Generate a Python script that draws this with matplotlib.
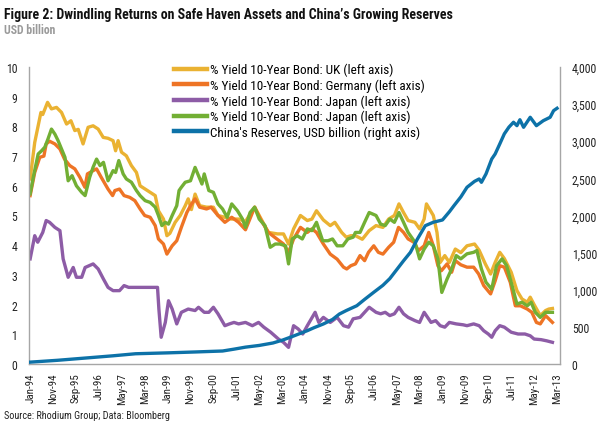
import matplotlib
matplotlib.use("Agg")
import matplotlib.pyplot as plt
from matplotlib import font_manager
from matplotlib.ticker import FuncFormatter

# prefer a condensed face if one is installed, else shrink regular Liberation Sans
installed = {f.name for f in font_manager.fontManager.ttflist}
narrow = None
for name in ['Liberation Sans Narrow', 'Roboto Condensed', 'Open Sans Condensed']:
    if name in installed:
        narrow = name
        break
if narrow:
    plt.rcParams['font.family'] = [narrow, 'Liberation Sans', 'DejaVu Sans']
    shrink = 1.0
else:
    plt.rcParams['font.family'] = ['Liberation Sans', 'DejaVu Sans']
    shrink = 0.82

# month index counted from Jan-94 (0)
uk_months = [0, 2, 4.7, 5.5, 7.6, 9.3, 11.5, 13.7, 15.9, 17.8, 19.5, 21, 23.1, 25.3, 27.5, 29.7,
             31.9, 34, 36.2, 37.3, 38.4, 39.9, 42, 44.2, 46.4, 48, 50.2, 52.4, 54.6, 56, 58.2,
             59.7, 61, 63.3, 65.5, 67.7, 69, 70.4, 72, 74, 77, 80, 82, 85, 88, 91, 94, 98, 100,
             104, 108, 110.6, 112.8, 115, 118, 121, 123, 125, 128, 131, 133, 136, 138, 140, 142,
             145, 148, 151, 154, 156.5, 159, 161, 163, 165, 168, 170, 172, 173, 176, 177.6, 179,
             181, 183, 185.6, 188, 190.7, 194, 196, 198.7, 201, 203, 205, 207, 210, 212.5, 214.7,
             217, 218.3, 220, 222.7, 225, 226.4, 228]
uk_yield = [6.23, 7.46, 8.47, 8.40, 8.81, 8.59, 8.64, 8.47, 8.08, 8.19, 7.86, 7.90, 7.41, 7.97, 8.02,
            7.91, 7.63, 7.60, 7.52, 7.18, 7.52, 7.13, 7.01, 6.68, 6.45, 6.00, 5.89, 5.78, 5.67, 5.16,
            4.88, 4.32, 4.40, 4.77, 5.00, 5.33, 5.56, 5.20, 5.72, 5.33, 5.28, 5.28, 5.00, 4.94, 4.88,
            4.88, 4.80, 5.28, 5.00, 4.43, 4.38, 4.38, 4.04, 4.55, 5.00, 4.83, 4.88, 5.16, 4.85, 4.66,
            4.77, 4.43, 4.27, 4.32, 4.32, 4.20, 4.49, 4.66, 4.60, 4.88, 5.00, 5.39, 5.10, 4.83, 4.77,
            4.55, 4.88, 5.39, 5.00, 4.43, 3.42, 3.65, 3.42, 3.87, 3.75, 3.98, 4.04, 3.83, 3.37, 3.03,
            3.42, 3.76, 3.55, 3.09, 2.47, 2.19, 2.08, 2.25, 2.00, 1.63, 1.80, 1.85, 1.87]

de_months = [0, 2, 4.2, 6, 7, 8.5, 10.8, 13, 15, 17.3, 19.5, 21.7, 23.9, 25, 27.5, 29, 31, 34, 36, 37,
             39, 41, 43.5, 45.7, 48, 50, 52.4, 54.6, 56, 58.2, 59.7, 62, 64, 66, 68.4, 70, 72, 74, 77,
             79, 82, 85, 88, 91, 94, 98, 100.5, 104, 107.7, 110.6, 112.8, 115, 118, 121, 123, 125,
             128, 131, 134, 136.8, 138.2, 140, 142, 144, 146, 147.7, 150, 152, 154, 156.5, 158.7,
             160.8, 163, 165, 167.5, 169.5, 172, 174, 176, 178, 179.5, 182, 184, 185.6, 188, 190.7,
             193.6, 195.8, 198, 201, 203, 205, 207, 209.6, 211.8, 214, 217, 219, 221, 222.7, 225, 228]
de_yield = [5.67, 6.45, 6.96, 7.00, 7.41, 7.50, 7.41, 7.24, 6.90, 6.68, 6.57, 6.29, 5.95, 6.40, 6.51,
            6.57, 6.29, 5.89, 5.67, 5.84, 5.89, 5.67, 5.61, 5.50, 5.22, 5.00, 4.94, 4.66, 4.21, 4.04,
            3.70, 3.98, 4.15, 4.60, 5.10, 5.33, 5.56, 5.28, 5.22, 5.28, 5.00, 4.77, 4.94, 4.77, 4.52,
            5.28, 4.88, 4.43, 4.21, 4.04, 3.76, 4.21, 4.60, 4.43, 4.55, 4.43, 4.04, 3.70, 3.53, 3.26,
            3.20, 3.31, 3.37, 3.65, 3.48, 3.76, 3.98, 3.76, 3.70, 3.93, 4.10, 4.60, 4.43, 4.21, 4.10,
            3.82, 3.98, 4.43, 3.98, 3.31, 3.14, 3.37, 3.09, 3.48, 3.34, 3.26, 3.26, 3.03, 2.64, 2.36,
            2.80, 3.31, 3.26, 2.75, 1.96, 1.96, 1.85, 1.74, 1.40, 1.35, 1.63, 1.40]

jp_months = [0, 2, 3.3, 5.5, 7, 8.5, 10.8, 13, 14.4, 16.6, 18.8, 20.2, 22.5, 24, 27.5, 29.7, 32, 34,
             36.2, 39, 41, 43, 47, 55.6, 56.2, 57.2, 59, 60.4, 62, 64, 66, 69, 72, 73.5, 76, 78, 80,
             82, 85, 87, 89, 91, 94, 97, 99.7, 102, 105, 108.4, 110.6, 112.8, 115, 117, 119, 121,
             124.4, 126, 128, 131, 134, 136.8, 139, 141, 144, 146, 148, 151, 153, 155, 157, 159, 161,
             163, 165, 168, 170, 172, 175, 177, 179, 181, 183, 186, 189, 190.7, 193.6, 196, 198, 200,
             201.5, 203, 205, 207, 210, 213, 216, 218.3, 220, 223, 225.5, 228]
jp_yield = [3.54, 4.32, 4.10, 4.43, 4.83, 4.77, 4.60, 4.49, 3.54, 2.92, 3.25, 2.92, 2.92, 3.25, 3.37,
            3.20, 2.86, 2.58, 2.47, 2.47, 2.64, 2.58, 2.58, 2.58, 1.85, 0.90, 1.40, 2.13, 1.85, 1.35,
            1.74, 1.85, 1.80, 1.91, 1.74, 1.74, 1.91, 1.69, 1.29, 1.35, 1.40, 1.35, 1.40, 1.29, 1.40,
            1.24, 1.07, 0.84, 0.73, 0.56, 1.29, 1.18, 1.01, 1.29, 1.74, 1.40, 1.57, 1.40, 1.57, 1.29,
            1.24, 1.52, 1.57, 1.74, 1.91, 1.74, 1.69, 1.74, 1.63, 1.69, 1.91, 1.69, 1.57, 1.46, 1.40,
            1.74, 1.40, 1.46, 1.29, 1.24, 1.40, 1.35, 1.32, 1.29, 1.35, 1.29, 1.12, 1.01, 0.90, 1.12,
            1.29, 1.24, 1.07, 1.01, 1.01, 0.95, 0.84, 0.82, 0.78, 0.73]

gr_months = [0, 1.5, 3.5, 5, 6.4, 7.8, 9.3, 10.8, 12.2, 13.7, 15.2, 16.6, 18.3, 20.2, 22.5, 24, 26,
             27.5, 29, 30.5, 32, 34, 36.2, 37.3, 38.7, 40.6, 42, 44.2, 46.4, 48, 50.2, 52.4, 54.6, 56,
             57.5, 59, 60.4, 62, 64, 65, 66, 67.7, 70, 72, 73.5, 75, 76, 78, 80, 82, 84, 86, 88, 90.5,
             92.7, 94, 96, 98, 100, 102.5, 104.8, 107, 109, 111.5, 112.8, 114.4, 116.6, 118.8, 121,
             123, 125, 127.7, 130, 132, 134, 136.5, 138.7, 141, 142, 144, 146, 148, 151, 153, 155,
             157, 159, 161, 163, 165, 168, 170, 172, 174, 176, 178, 179.7, 182, 184, 186, 188, 190.7,
             193.6, 195, 197, 199, 201.5, 203.6, 206, 208, 210, 212.5, 214.7, 217, 218.7, 220.5,
             222.7, 225, 228]
gr_yield = [5.73, 6.34, 7.07, 7.18, 7.30, 7.58, 7.91, 7.74, 7.52, 7.24, 6.96, 6.17, 6.34, 6.00, 5.78,
            5.67, 6.29, 6.63, 6.90, 6.68, 6.79, 6.17, 6.51, 6.45, 6.85, 6.40, 6.23, 6.12, 5.84, 5.67,
            5.50, 5.44, 5.28, 5.00, 4.66, 4.77, 4.71, 5.00, 5.33, 5.84, 5.95, 6.12, 6.17, 6.62, 6.34,
            6.06, 6.40, 5.84, 5.78, 5.39, 5.22, 4.94, 5.39, 5.16, 4.88, 4.60, 5.10, 5.28, 4.88, 4.66,
            3.93, 4.04, 4.04, 3.98, 3.37, 4.21, 4.32, 4.21, 4.55, 4.49, 4.77, 4.15, 4.15, 4.21, 3.98,
            3.98, 4.21, 4.27, 4.43, 4.43, 4.77, 5.10, 5.00, 4.71, 4.66, 4.88, 4.77, 5.10, 4.77, 4.43,
            4.10, 3.54, 3.87, 4.10, 3.98, 3.54, 2.41, 2.86, 3.20, 3.65, 3.54, 3.71, 3.76, 3.82, 3.20,
            2.75, 2.52, 3.31, 3.54, 3.31, 2.75, 2.02, 2.08, 1.96, 2.08, 1.74, 1.57, 1.74, 1.74]

cn_months = [0, 12, 24, 36, 46, 60, 72, 84, 89, 94, 100, 106, 110, 114, 121, 124, 128, 132, 135, 138,
             142.6, 146, 150, 154, 157, 160, 163, 166, 169, 172.5, 176, 180, 183, 185, 188, 190.7,
             194, 196, 197, 199, 201.5, 203, 205, 207, 209, 211, 212.5, 213.8, 215.4, 218.3, 221,
             224, 227, 228.5, 230]
cn_reserves = [25, 50, 80, 110, 138, 150, 162, 175, 200, 227, 250, 283, 320, 365, 449, 490, 539, 600,
               673, 720, 785, 870, 966, 1060, 1150, 1270, 1390, 1504, 1680, 1863, 1909, 1940, 2050,
               2132, 2250, 2380, 2460, 2492, 2447, 2560, 2761, 2829, 2963, 3100, 3190, 3256, 3210,
               3290, 3188, 3323, 3210, 3277, 3323, 3412, 3444]

tick_labels = ['Jan-94', 'Nov-94', 'Sep-95', 'Jul-96', 'May-97', 'Mar-98', 'Jan-99', 'Nov-99',
               'Sep-00', 'Jul-01', 'May-02', 'Mar-03', 'Jan-04', 'Nov-04', 'Sep-05', 'Jul-06',
               'May-07', 'Mar-08', 'Jan-09', 'Nov-09', 'Sep-10', 'Jul-11', 'May-12', 'Mar-13']

labels = ['% Yield 10-Year Bond: UK (left axis)',
          '% Yield 10-Year Bond: Germany (left axis)',
          '% Yield 10-Year Bond: Japan (left axis)',
          '% Yield 10-Year Bond: Japan (left axis)',
          "China's Reserves, USD billion (right axis)"]
colors = ['#EAB232', '#EE7425', '#8D5CA6', '#72AF34', '#0D72A8']

W, H = 608, 427
fig = plt.figure(figsize=(W / 100, H / 100), dpi=100)
ax = fig.add_axes([29 / W, 1 - 365 / H, (560 - 29) / W, (365 - 68) / H])
ax2 = ax.twinx()

lw = 2.4
series = [(uk_months, uk_yield), (de_months, de_yield), (jp_months, jp_yield), (gr_months, gr_yield)]
handles = []
for (mx, vals), lab, col in zip(series, labels[:4], colors[:4]):
    h, = ax.plot(mx, vals, color=col, lw=lw, label=lab, solid_joinstyle='round')
    handles.append(h)
h, = ax2.plot(cn_months, cn_reserves, color=colors[4], lw=lw, label=labels[4], solid_joinstyle='round')
handles.append(h)

ax.set_xlim(-0.5, 231.3)
ax.set_ylim(0, 10)
ax2.set_ylim(0, 4000)
ax.set_yticks(range(0, 11))
ax2.set_yticks(range(0, 4001, 500))
ax2.yaxis.set_major_formatter(FuncFormatter(lambda v, p: f'{int(v):,}'))
ax.set_xticks([i * 10 for i in range(len(tick_labels))])
ax.set_xticklabels(tick_labels, rotation=90, fontsize=7.9 * shrink, color='#222222')

spine_col = '#A6A6A6'
for a in (ax, ax2):
    a.spines['top'].set_visible(False)
    for s in ('left', 'right', 'bottom'):
        a.spines[s].set_color(spine_col)
        a.spines[s].set_linewidth(1.0)
ax.spines['right'].set_visible(False)
ax2.spines['left'].set_visible(False)
ax2.spines['bottom'].set_visible(False)

ax.tick_params(axis='y', length=0, pad=8.5, labelsize=8.5, labelcolor='#222222')
ax.tick_params(axis='x', length=0, pad=6)
ax2.tick_params(axis='y', length=0, pad=8.5, labelsize=8.5, labelcolor='#222222')

fig.legend(handles=handles, labels=labels, loc='upper left',
           bbox_to_anchor=(174 / W, 1 - 64 / H), bbox_transform=fig.transFigure,
           frameon=False, fontsize=9.5, handlelength=2.5, handletextpad=0.25,
           labelspacing=0.17, borderpad=0, borderaxespad=0)
for line in fig.legends[0].get_lines():
    line.set_linewidth(3.2)

fig.text(4 / W, 1 - 15 / H, "Figure 2: Dwindling Returns on Safe Haven Assets and China\u2019s Growing Reserves",
         fontsize=10.0 * shrink, fontweight='bold', va='center', ha='left', color='#111111')
fig.text(4 / W, 1 - 31 / H, 'USD billion', fontsize=8.5 * shrink, fontweight='bold', va='center',
         ha='left', color='#9A9A9A')
fig.text(4 / W, 1 - 416 / H, 'Source: Rhodium Group; Data: Bloomberg', fontsize=7.3 * shrink,
         va='center', ha='left', color='#222222')

fig.savefig('out.png', dpi=100)
